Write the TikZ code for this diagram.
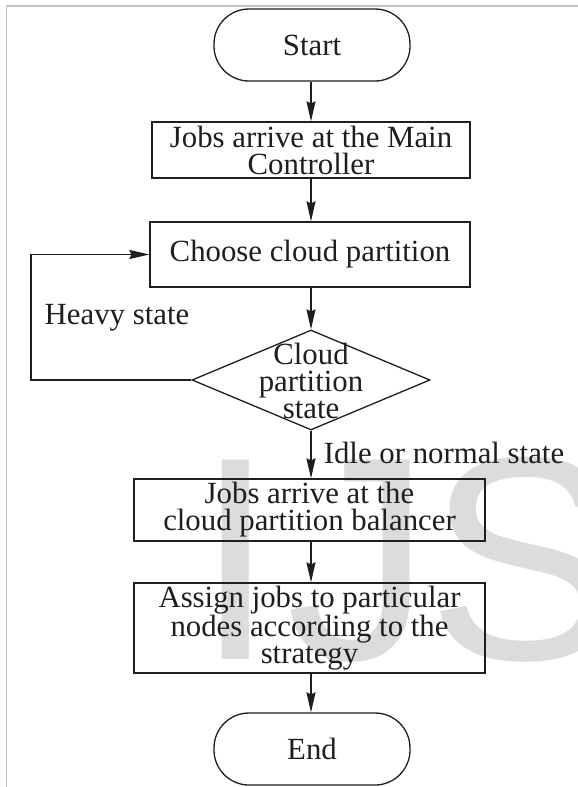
\documentclass[tikz,border=0pt]{standalone}
\usepackage{fontspec}
\setmainfont{Liberation Serif}
\newfontfamily\wmfont{Liberation Sans}
\usetikzlibrary{shapes.geometric,arrows.meta}
\definecolor{ink}{HTML}{1E1E1E}
\definecolor{wm}{HTML}{DCDCDC}
\definecolor{frame}{HTML}{C4C4C4}
\tikzset{
  flowbox/.style={draw=ink, line width=1.3pt, rectangle, inner sep=0pt, align=center, text=ink},
  pill/.style={draw=ink, line width=1.3pt, rectangle, rounded corners=35pt, inner sep=0pt, minimum width=196pt, minimum height=72pt, text=ink},
  decide/.style={draw=ink, line width=1.3pt, diamond, inner sep=0pt, minimum width=238pt, minimum height=100pt},
  arr/.style={draw=ink, line width=1.3pt, -{Stealth[length=20pt,width=9pt,inset=2pt]}},
  lbl/.style={text=ink, inner sep=0pt},
  wmletter/.style={anchor=base west, inner sep=0pt, text=wm, font=\wmfont\fontsize{290}{290}\selectfont},
}
\begin{document}
\begin{tikzpicture}[x=1pt,y=-1pt,font=\fontsize{30.8}{27}\selectfont]
\useasboundingbox (0,0) rectangle (578,787);
\begin{scope}
\clip (0,0) rectangle (578,787);
\node[wmletter] (wmI) at (195,659) {I};
\node[wmletter] (wmJ) at (286,659) {J};
\node[wmletter] (wmS) at (427,659) {S};
\end{scope}
\draw[frame, line width=1.5pt] (6.3,787) -- (6.3,6) -- (578,6);

\node[pill] (start) at (312,45) {Start};
\node[flowbox, minimum width=318pt, minimum height=56pt] (b1) at (311,150) {Jobs arrive at the Main\\Controller};
\node[flowbox, minimum width=320pt, minimum height=65pt] (b2) at (310,254.5) {Choose cloud partition};
\node[decide] (d) at (311,380) {};
\node[lbl, align=center] (dtext) at (311,381) {Cloud\\partition\\state};
\node[flowbox, minimum width=351pt, minimum height=62pt] (b3) at (309.5,510) {Jobs arrive at the\\cloud partition balancer};
\node[flowbox, minimum width=351pt, minimum height=90pt] (b4) at (309.5,628) {Assign jobs to particular\\nodes according to the\\strategy};
\node[pill] (end) at (312,749) {End};

\node[lbl] (heavy) at (117,318) {Heavy state};
\node[lbl] (idle) at (444,453) {Idle or normal state};

\coordinate (loop) at (31,380);
\draw[arr] (start.south -| d.south) -- (d.south |- b1.north);
\draw[arr] (b1.south -| d.south) -- (d.south |- b2.north);
\draw[arr] (b2.south -| d.south) -- (d.north);
\draw[arr] (d.south) -- (d.south |- b3.north);
\draw[arr] (b3.south -| d.south) -- (d.south |- b4.north);
\draw[arr] (b4.south -| d.south) -- (d.south |- end.north);
\draw[arr] (d.west) -- (loop) |- (b2.west);
\end{tikzpicture}
\end{document}
